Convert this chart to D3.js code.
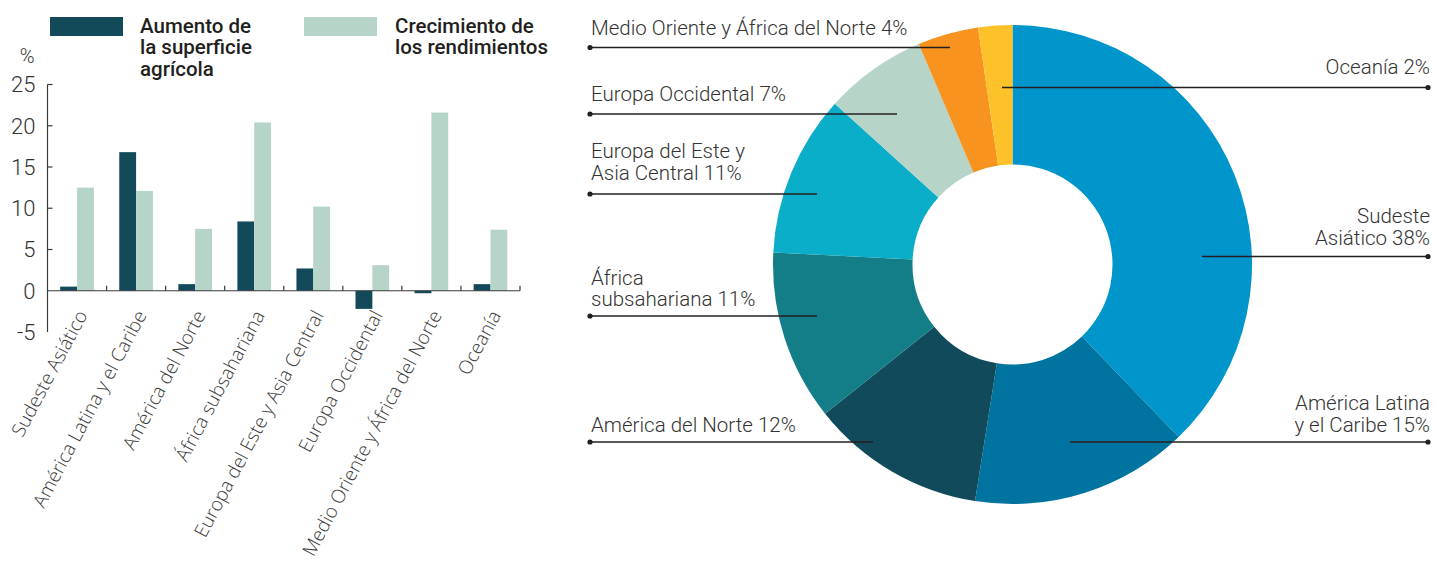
<!DOCTYPE html>
<html>
<head>
<meta charset="utf-8">
<title>Superficie agrícola y rendimientos</title>
<script src="https://d3js.org/d3.v7.min.js"></script>
<style>
  body { margin: 0; background: #fff; }
  svg text { fill: #231f20; }
  .tick-lbl { font: 300 22px Roboto, sans-serif; fill: #333; }
  .cat-lbl { font: 300 19px "Open Sans", sans-serif; fill: #3a3a3a; }
  .legend { font: 500 20.5px Roboto, sans-serif; }
  .pie-lbl { font: 300 20.5px Roboto, sans-serif; fill: #333; }
</style>
</head>
<body>
<svg width="1434" height="569"></svg>
<script>
// --- bar chart data (%)
var regions = ["Sudeste Asiático", "América Latina y el Caribe", "América del Norte",
  "África subsahariana", "Europa del Este y Asia Central", "Europa Occidental",
  "Medio Oriente y África del Norte", "Oceanía"];
var areaGrowth  = [0.5, 16.8, 0.8, 8.4, 2.7, -2.2, -0.3, 0.8];
var yieldGrowth = [12.5, 12.1, 7.5, 20.4, 10.2, 3.1, 21.6, 7.4];
var yTicks = [-5, 0, 5, 10, 15, 20, 25];
var seriesNames = [["Aumento de", "la superficie", "agrícola"], ["Crecimiento de", "los rendimientos"]];
var seriesColors = ["#124a59", "#b7d4c9"];

// --- donut data (share, %)
var pieNames = ["Sudeste Asiático", "América Latina y el Caribe", "América del Norte",
  "África subsahariana", "Europa del Este y Asia Central", "Europa Occidental",
  "Medio Oriente y África del Norte", "Oceanía"];
var pieShares = [37.8, 14.7, 11.8, 11.5, 10.9, 6.9, 4.1, 2.3];
var pieLabels = [["Sudeste", "Asiático 38%"], ["América Latina", "y el Caribe 15%"], ["América del Norte 12%"],
  ["África", "subsahariana 11%"], ["Europa del Este y", "Asia Central 11%"], ["Europa Occidental 7%"],
  ["Medio Oriente y África del Norte 4%"], ["Oceanía 2%"]];
var pieColors = ["#0096cc", "#0074a0", "#114a5a", "#137e87", "#0aaec8", "#b7d4c9", "#f7931e", "#fdc12a"];

var svg = d3.select("svg");

// ================= bar chart =================
var x0 = 47.5, x1 = 520, yTop = 84.5, yBot = 332;
var x = d3.scaleBand().domain(regions).range([x0, x1]);
var y = d3.scaleLinear().domain([-5, 25]).range([yBot, yTop]);
var bw = x.bandwidth() * 0.285;

var bars = svg.append("g");
regions.forEach(function(r, i) {
  var cx = x(r) + x.bandwidth() / 2;
  [areaGrowth[i], yieldGrowth[i]].forEach(function(v, j) {
    bars.append("rect")
      .attr("x", j === 0 ? cx - bw : cx)
      .attr("width", bw)
      .attr("y", y(Math.max(0, v)))
      .attr("height", Math.abs(y(v) - y(0)))
      .attr("fill", seriesColors[j]);
  });
});

// y axis
var ax = svg.append("g").attr("stroke", "#3a3a3a").attr("stroke-width", 1.2);
ax.append("line").attr("x1", x0).attr("x2", x0).attr("y1", y(25)).attr("y2", yBot);
yTicks.forEach(function(t) {
  if (t !== 0 && t !== -5) ax.append("line").attr("x1", x0).attr("x2", x0 + 5).attr("y1", y(t)).attr("y2", y(t));
});
svg.append("g").selectAll("text").data(yTicks).join("text")
  .attr("class", "tick-lbl")
  .attr("x", 35.5).attr("y", function(d) { return y(d); }).attr("dy", "0.36em")
  .attr("text-anchor", "end")
  .text(function(d) { return d; });
svg.append("text").attr("class", "tick-lbl").attr("x", 34.5).attr("y", 63)
  .attr("text-anchor", "end").style("font-size", "20px").text("%");

// x axis
ax.append("line").attr("x1", x0).attr("x2", x1).attr("y1", y(0)).attr("y2", y(0));
regions.forEach(function(r) {
  var bx = x(r) + x.bandwidth();
  ax.append("line").attr("x1", bx).attr("x2", bx).attr("y1", y(0)).attr("y2", y(0) - 5);
});
svg.append("g").selectAll("text").data(regions).join("text")
  .attr("class", "cat-lbl")
  .attr("text-anchor", "end")
  .attr("transform", function(d) {
    return "translate(" + (x(d) + x.bandwidth() / 2 + 11) + ",315) rotate(-62)";
  })
  .text(function(d) { return d; });

// legend
var legX = [50, 304], legTx = [140, 395];
seriesNames.forEach(function(lines, j) {
  svg.append("rect").attr("x", legX[j]).attr("y", 17).attr("width", 73).attr("height", 19)
    .attr("fill", seriesColors[j]);
  var t = svg.append("text").attr("class", "legend").attr("x", legTx[j]).attr("y", 32.5);
  lines.forEach(function(l, k) {
    t.append("tspan").attr("x", legTx[j]).attr("dy", k ? 21.5 : 0).text(l);
  });
});

// ================= donut =================
var pcx = 1012.5, pcy = 264.5, rOut = 239.5, rIn = 100;
var pie = d3.pie().sort(null).value(function(d) { return d; });
var arc = d3.arc().innerRadius(rIn).outerRadius(rOut);
var arcs = pie(pieShares);
var pg = svg.append("g").attr("transform", "translate(" + pcx + "," + pcy + ")");
pg.selectAll("path").data(arcs).join("path")
  .attr("d", arc)
  .attr("fill", function(d, i) { return pieColors[i]; });

// leader lines: side, line y, inner end x, gap text->line, line spacing
var leaders = [
  {side: "r", y: 256.5, x: 1202, gap: 11.5, lh: 22},
  {side: "r", y: 442, x: 1070, gap: 10.5, lh: 22},
  {side: "l", y: 442, x: 873, gap: 10.5, lh: 22},
  {side: "l", y: 316, x: 817, gap: 10, lh: 21.5},
  {side: "l", y: 194, x: 817, gap: 14, lh: 22},
  {side: "l", y: 114, x: 897, gap: 13.5, lh: 22},
  {side: "l", y: 47.5, x: 950, gap: 12.5, lh: 22},
  {side: "r", y: 87.5, x: 1002, gap: 14, lh: 22}
];
var lg = svg.append("g");
leaders.forEach(function(L, i) {
  var dotX = L.side === "l" ? 590 : 1428;
  lg.append("line").attr("x1", dotX).attr("x2", L.x).attr("y1", L.y).attr("y2", L.y)
    .attr("stroke", "#231f20").attr("stroke-width", 1.3);
  lg.append("circle").attr("cx", dotX).attr("cy", L.y).attr("r", 2.6).attr("fill", "#231f20");
  var lines = pieLabels[i];
  var t = lg.append("text").attr("class", "pie-lbl")
    .attr("text-anchor", L.side === "l" ? "start" : "end");
  lines.forEach(function(l, k) {
    t.append("tspan")
      .attr("x", L.side === "l" ? 591 : 1430)
      .attr("y", L.y - L.gap - (lines.length - 1 - k) * L.lh)
      .text(l);
  });
});
</script>
</body>
</html>
